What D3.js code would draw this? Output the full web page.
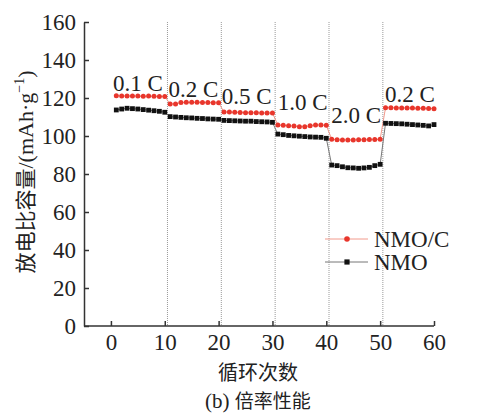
<!DOCTYPE html>
<html><head><meta charset="utf-8">
<script src="https://cdn.jsdelivr.net/npm/d3@7"></script>
<style>body{margin:0;background:#fff}</style>
</head><body><svg id="c" width="480" height="414"></svg>
<script>
const cycles = d3.range(1, 61);
const nmoC = [
121.2,121.0,121.1,121.0,121.0,120.9,121.0,120.9,120.8,120.8,
116.8,116.9,117.6,117.7,117.7,117.7,117.6,117.6,117.5,117.5,
112.6,112.6,112.5,112.4,112.3,112.2,112.2,112.1,112.1,112.1,
105.8,105.6,105.4,105.2,104.9,104.9,105.4,105.8,105.8,105.6,
98.3,98.0,97.9,97.9,97.9,98.0,98.0,98.1,98.1,98.3,
114.9,114.9,114.8,114.8,114.7,114.7,114.6,114.6,114.5,114.4];
const nmo = [
113.7,114.2,114.6,114.4,114.2,113.9,113.6,113.3,113.0,112.5,
110.2,110.0,109.8,109.6,109.5,109.3,109.2,109.0,108.9,108.8,
108.2,108.1,108.0,107.9,107.8,107.8,107.6,107.5,107.4,107.2,
101.0,100.7,100.3,100.1,99.9,99.7,99.5,99.4,99.3,98.8,
84.7,84.4,83.8,83.3,83.2,83.0,83.2,83.5,84.4,85.1,
106.7,106.6,106.5,106.4,106.2,106.0,105.8,105.6,105.3,106.0];
const boundaries = [10.5, 20.5, 30.5, 40.5, 50.5];
const rateLabels = ["0.1 C","0.2 C","0.5 C","1.0 C","2.0 C","0.2 C"];
const labelCycle = [0.4, 10.7, 20.6, 31.0, 40.9, 50.9];
const labelCap = [123.7, 120.7, 116.8, 113.7, 107.0, 118.0];
const xTicks = [0,10,20,30,40,50,60];
const yTicks = [0,20,40,60,80,100,120,140,160];
const seriesNames = ["NMO/C","NMO"];

const svg = d3.select("#c");
const serif = "'Liberation Serif','Times New Roman',serif";
const cjk = "'Noto Sans CJK SC',sans-serif";
const x = d3.scaleLinear().domain([-5, 60]).range([84, 434]);
const y = d3.scaleLinear().domain([0, 160]).range([326, 22]);

// dotted boundaries
svg.selectAll("line.b").data(boundaries).enter().append("line")
  .attr("x1", d=>x(d)).attr("x2", d=>x(d)).attr("y1", y(160)).attr("y2", y(0))
  .attr("stroke","#999").attr("stroke-width",1).attr("stroke-dasharray","1,1");

// axes
const axC = "#333";
const gx = svg.append("g").attr("transform",`translate(0,${y(0)})`)
  .call(d3.axisBottom(x).tickValues(xTicks).tickSizeInner(-5).tickSizeOuter(0).tickPadding(8));
const gy = svg.append("g").attr("transform",`translate(${x(-5)},0)`)
  .call(d3.axisLeft(y).tickValues(yTicks).tickSizeInner(-5).tickSizeOuter(0).tickPadding(8));
[gx,gy].forEach(g=>{
  g.select(".domain").attr("stroke",axC).attr("stroke-width",1.5);
  g.selectAll(".tick line").attr("stroke",axC).attr("stroke-width",1.5);
  g.selectAll("text").attr("font-family",serif).attr("font-size",23).attr("fill","#222");
});
gx.selectAll("text").attr("dy","0.71em");
gx.select(".domain").attr("d", `M${x(-5)},0H${x(60)}`);

// lines
const redLine = "#f29a8c", red = "#e8362c";
const lineGen = vals => d3.line().x((d,i)=>x(cycles[i])).y(d=>y(d))(vals);
svg.append("path").attr("d", lineGen(nmo)).attr("fill","none").attr("stroke","#777").attr("stroke-width",1);
svg.append("path").attr("d", lineGen(nmoC)).attr("fill","none").attr("stroke",redLine).attr("stroke-width",1);

svg.selectAll("rect.p").data(nmo).enter().append("rect")
  .attr("x",(d,i)=>x(cycles[i])-2.4).attr("y",d=>y(d)-2.4).attr("width",4.8).attr("height",4.8).attr("fill","#111");
svg.selectAll("circle.p").data(nmoC).enter().append("circle")
  .attr("cx",(d,i)=>x(cycles[i])).attr("cy",d=>y(d)).attr("r",2.5).attr("fill",red);

// rate labels
svg.selectAll("text.r").data(rateLabels).enter().append("text")
  .attr("x",(d,i)=>x(labelCycle[i])).attr("y",(d,i)=>y(labelCap[i]))
  .attr("font-family",serif).attr("font-size",23).attr("fill","#222").text(d=>d);

// legend
const lg = svg.append("g");
const legY = [239, 262];
lg.append("line").attr("x1",325).attr("x2",368).attr("y1",legY[0]).attr("y2",legY[0]).attr("stroke",redLine).attr("stroke-width",1);
lg.append("circle").attr("cx",347).attr("cy",legY[0]).attr("r",2.8).attr("fill",red);
lg.append("line").attr("x1",325).attr("x2",368).attr("y1",legY[1]).attr("y2",legY[1]).attr("stroke","#777").attr("stroke-width",1);
lg.append("rect").attr("x",344.4).attr("y",legY[1]-2.6).attr("width",5.2).attr("height",5.2).attr("fill","#111");
lg.selectAll("text").data(seriesNames).enter().append("text")
  .attr("x",374).attr("y",(d,i)=>legY[i]+8).attr("font-family",serif).attr("font-size",23).attr("fill","#222").text(d=>d);

// axis titles
svg.append("text").attr("x",258).attr("y",380).attr("text-anchor","middle")
  .attr("font-family",cjk).attr("font-size",20).attr("fill","#222").text("循环次数");
const cap = svg.append("text").attr("x",258).attr("y",408).attr("text-anchor","middle")
  .attr("font-size",19).attr("fill","#222");
cap.append("tspan").attr("font-family",serif).attr("font-size",21).text("(b) ");
cap.append("tspan").attr("font-family",cjk).text("倍率性能");

const yt = svg.append("text").attr("transform","translate(33,172) rotate(-90)").attr("text-anchor","middle")
  .attr("font-size",22).attr("fill","#222");
yt.append("tspan").attr("font-family",cjk).attr("font-size",21).text("放电比容量");
yt.append("tspan").attr("font-family",serif).text("/(mAh·g");
yt.append("tspan").attr("font-family",serif).attr("font-size",14).attr("dy",-9).text("−1");
yt.append("tspan").attr("font-family",serif).attr("dy",9).text(")");
</script></body></html>
